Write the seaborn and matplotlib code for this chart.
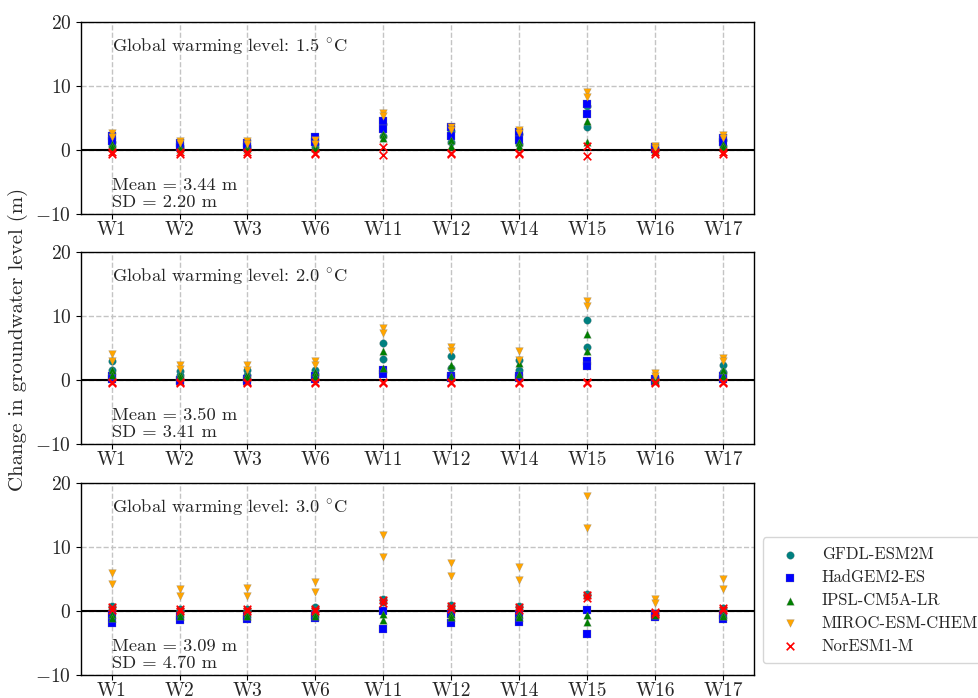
import numpy as np
import pandas as pd
import matplotlib
matplotlib.use("Agg")
import matplotlib.pyplot as plt
import seaborn as sns

wells = ["W1", "W2", "W3", "W6", "W11", "W12", "W14", "W15", "W16", "W17"]
models = ["GFDL-ESM2M", "HadGEM2-ES", "IPSL-CM5A-LR", "MIROC-ESM-CHEM", "NorESM1-M"]
levels = ["1.5", "2.0", "3.0"]
mean_txt = ["3.44", "3.50", "3.09"]
sd_txt = ["2.20", "3.41", "4.70"]

# values per well: (scenario A, scenario B)
gfdl_15 = [(1.2, 0.6), (0.6, 0.3), (0.6, 0.3), (0.9, 0.5), (4.0, 2.2), (3.0, 1.2), (2.5, 1.0), (6.9, 3.6), (0.3, 0.1), (1.5, 0.6)]
had_15 = [(2.2, 1.4), (1.1, 0.5), (1.1, 0.5), (2.0, 1.3), (4.6, 3.3), (3.6, 2.2), (2.8, 1.5), (7.2, 5.6), (0.4, 0.1), (1.9, 1.2)]
ipsl_15 = [(1.0, 0.4), (0.5, 0.2), (0.5, 0.2), (0.6, 0.3), (2.5, 1.8), (1.5, 0.7), (1.2, 0.6), (4.6, 1.3), (0.1, -0.1), (1.0, 0.4)]
miroc_15 = [(2.6, 2.1), (1.4, 1.1), (1.4, 1.0), (1.6, 1.0), (5.8, 5.3), (3.6, 3.2), (3.1, 2.7), (9.0, 8.3), (0.6, 0.3), (2.3, 1.9)]
nor_15 = [(-0.3, -0.7), (-0.3, -0.6), (-0.3, -0.6), (-0.4, -0.7), (0.4, -0.8), (-0.4, -0.7), (-0.4, -0.7), (0.7, -0.9), (-0.3, -0.6), (-0.3, -0.7)]

gfdl_20 = [(2.9, 1.5), (1.4, 0.8), (1.5, 0.8), (1.6, 0.9), (5.8, 3.3), (3.7, 1.9), (3.2, 1.6), (9.3, 5.2), (0.4, 0.1), (2.4, 1.2)]
had_20 = [(0.6, 0.2), (0.0, -0.2), (0.1, -0.2), (0.6, 0.2), (1.6, 0.9), (0.6, 0.3), (0.6, 0.3), (3.0, 2.2), (0.2, -0.2), (0.6, 0.2)]
ipsl_20 = [(1.6, 0.8), (0.9, 0.4), (1.0, 0.4), (1.3, 0.6), (4.6, 1.9), (2.4, 0.6), (2.6, 1.0), (7.2, 4.5), (0.3, 0.0), (1.6, 0.6)]
miroc_20 = [(4.0, 3.0), (2.3, 1.7), (2.4, 1.6), (2.9, 2.3), (8.1, 7.4), (5.1, 4.5), (4.6, 3.2), (12.4, 11.6), (1.1, 0.7), (3.4, 2.9)]
nor_20 = [(-0.3, -0.4), (-0.3, -0.4), (-0.3, -0.4), (-0.3, -0.4), (-0.3, -0.4), (-0.3, -0.4), (-0.3, -0.4), (-0.3, -0.5), (-0.3, -0.5), (-0.3, -0.4)]

gfdl_30 = [(0.8, 0.3), (0.3, 0.0), (0.3, 0.0), (0.6, 0.1), (1.9, 1.4), (0.9, 0.4), (0.7, 0.3), (2.7, 2.3), (-0.3, -0.6), (0.5, 0.1)]
had_30 = [(-0.6, -1.9), (-0.8, -1.4), (-0.8, -1.3), (-0.6, -1.1), (0.05, -2.8), (-0.5, -1.9), (-0.5, -1.8), (0.15, -3.6), (-0.5, -0.9), (-0.6, -1.3)]
ipsl_30 = [(-0.4, -1.1), (-0.3, -0.8), (-0.3, -0.8), (-0.3, -0.8), (-1.35, -0.5), (-0.5, -1.0), (-0.5, -1.0), (-1.8, -0.6), (-0.4, -0.6), (-0.4, -0.8)]
miroc_30 = [(6.0, 4.2), (3.4, 2.4), (3.6, 2.4), (4.5, 3.0), (11.8, 8.4), (7.5, 5.4), (6.8, 4.8), (17.9, 12.9), (1.9, 1.2), (5.0, 3.5)]
nor_30 = [(0.6, 0.2), (0.3, 0.0), (0.3, 0.0), (0.3, 0.0), (1.7, 1.2), (0.8, 0.3), (0.6, 0.2), (2.5, 2.0), (-0.2, -0.5), (0.4, 0.1)]

panels = [
    [gfdl_15, had_15, ipsl_15, miroc_15, nor_15],
    [gfdl_20, had_20, ipsl_20, miroc_20, nor_20],
    [gfdl_30, had_30, ipsl_30, miroc_30, nor_30],
]

colors = ["teal", "blue", "green", "orange", "red"]
marker_list = ["o", "s", "^", "v", "x"]

sns.set_style("ticks", {"axes.grid": True, "grid.linestyle": "--", "grid.color": "#c4c4c4",
                        "axes.edgecolor": "black"})
plt.rcParams["font.family"] = ["cmr10", "DejaVu Serif"]
plt.rcParams["mathtext.fontset"] = "cm"
plt.rcParams["axes.formatter.use_mathtext"] = True
plt.rcParams["axes.unicode_minus"] = True

fig = plt.figure(figsize=(9.79, 6.98), dpi=100)
boxes = [(0.0827, 0.6934, 0.6873, 0.2751), (0.0827, 0.3639, 0.6873, 0.2751), (0.0827, 0.0330, 0.6873, 0.2751)]

for i, (vals, box) in enumerate(zip(panels, boxes)):
    ax = fig.add_axes(box)
    for m, arr, c, mk in zip(models, vals, colors, marker_list):
        rows = [{"well": w, "value": v} for w, pair in zip(wells, arr) for v in pair]
        df = pd.DataFrame(rows)
        kw = dict(linewidth=1.2) if mk == "x" else dict(linewidth=0.2, edgecolor="gray")
        sns.scatterplot(data=df, x="well", y="value", color=c, marker=mk, s=30,
                        ax=ax, label=m, zorder=3, **kw)
    ax.axhline(0, color="black", lw=1.5, zorder=2)
    ax.set_ylim(-10, 20)
    ax.set_yticks([-10, 0, 10, 20])
    ax.set_xlabel("")
    ax.set_ylabel("")
    ax.tick_params(labelsize=14, color="black")
    ax.tick_params(axis="x", pad=1.5)
    ax.grid(True, linestyle="--", color="#c4c4c4", lw=1)
    ax.set_axisbelow(True)
    for sp in ax.spines.values():
        sp.set_color("black")
        sp.set_linewidth(1.0)
    ax.text(0.046, 0.87, "Global warming level: " + levels[i] + r" $^{\circ}$C",
            transform=ax.transAxes, fontsize=13.3, va="center", ha="left")
    ax.text(0.046, 0.02, "Mean = " + mean_txt[i] + " m\nSD = " + sd_txt[i] + " m",
            transform=ax.transAxes, fontsize=13.3, va="bottom", ha="left", linespacing=1.12)
    if i == 2:
        ax.legend(loc="lower left", bbox_to_anchor=(763 / 979, 1 - 663 / 698),
                  bbox_transform=fig.transFigure, borderaxespad=0, frameon=True,
                  fontsize=12, handlelength=2.1, handletextpad=0.87, borderpad=0.55,
                  labelspacing=0.46)
    else:
        ax.get_legend().remove()

fig.text(0.018, 0.513, "Change in groundwater level (m)", rotation=90, fontsize=15,
         va="center", ha="center")

fig.savefig("out.png", dpi=100)
